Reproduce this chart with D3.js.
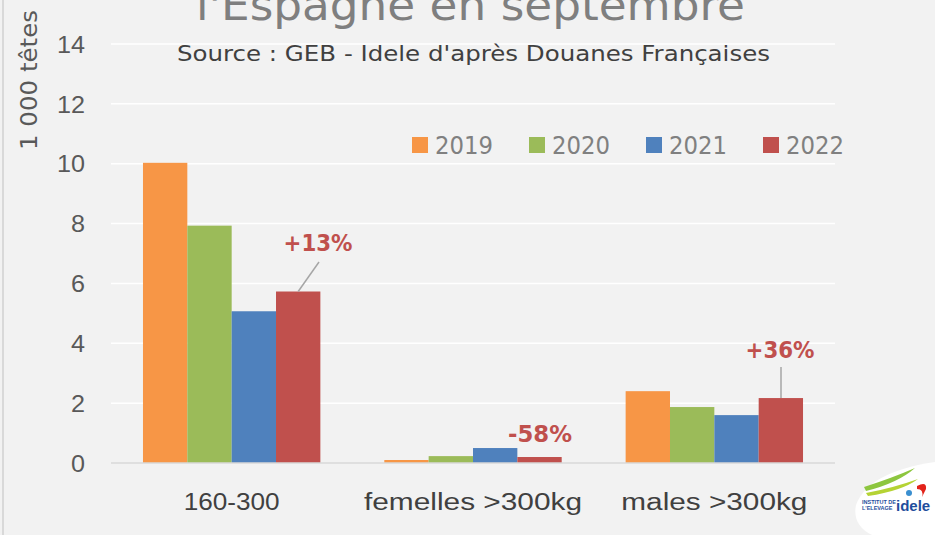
<!DOCTYPE html>
<html>
<head>
<meta charset="utf-8">
<script src="https://cdn.jsdelivr.net/npm/d3@7"></script>
<style>
  body { margin: 0; background: #f2f2f2; }
  svg { display: block; font-family: "Century Gothic", "URW Gothic", "DejaVu Sans", sans-serif; }
</style>
</head>
<body>
<div id="chart"></div>
<script>
const categories = ["160-300", "femelles >300kg", "males >300kg"];
const years = ["2019", "2020", "2021", "2022"];
const colors = ["#f79646", "#9bbb59", "#4f81bd", "#c0504d"];
const v2019 = [10.03, 0.1, 2.4];
const v2020 = [7.93, 0.23, 1.87];
const v2021 = [5.07, 0.5, 1.6];
const v2022 = [5.73, 0.2, 2.17];
const changes = ["+13%", "-58%", "+36%"];
const yTicks = [0, 2, 4, 6, 8, 10, 12, 14];

const W = 935, H = 535;
const series = [v2019, v2020, v2021, v2022];

const svg = d3.select("#chart").append("svg")
    .attr("width", W).attr("height", H);

svg.append("rect").attr("width", W).attr("height", H).attr("fill", "#f2f2f2");
svg.append("line").attr("x1", 3).attr("x2", 3).attr("y1", 0).attr("y2", H)
    .attr("stroke", "#d0d0d0").attr("stroke-width", 1.5);

const x0 = d3.scaleBand().domain(categories).range([111, 835]).paddingInner(0.265).paddingOuter(0.1325);
const x1 = d3.scaleBand().domain(years).range([0, x0.bandwidth()]);
const y = d3.scaleLinear().domain([0, 14]).range([463, 44]);

// fixed widths so the fallback font spans like the original
function fit(sel, w) {
  sel.attr("textLength", w).attr("lengthAdjust", "spacingAndGlyphs");
}

// gridlines
svg.append("g").selectAll("line").data(yTicks.filter(d => d > 0)).join("line")
    .attr("x1", 111).attr("x2", 835)
    .attr("y1", d => y(d)).attr("y2", d => y(d))
    .attr("stroke", "#ffffff").attr("stroke-width", 1.5);

// title (cut off at top like the original)
svg.append("text").attr("x", 196).attr("y", 20)
    .attr("font-size", 42).attr("fill", "#7f7f7f")
    .text("l'Espagne en septembre").call(fit, 549);

svg.append("text").attr("x", 177).attr("y", 61)
    .attr("font-size", 21).attr("fill", "#404040")
    .text("Source : GEB - Idele d'après Douanes Françaises").call(fit, 593);

// y axis
const yAxis = svg.append("g").attr("transform", "translate(85,0)")
    .call(d3.axisLeft(y).tickValues(yTicks).tickSize(0).tickPadding(0));
yAxis.select(".domain").remove();
yAxis.selectAll("text").attr("font-size", 23).attr("fill", "#595959")
    .attr("font-family", "inherit").attr("dy", "0.36em")
    .each(function(d) { d3.select(this).call(fit, String(d).length * 14); });

svg.append("text").attr("transform", "translate(37,150) rotate(-90)")
    .attr("font-size", 23).attr("fill", "#595959")
    .text("1 000 têtes").call(fit, 140);

// bars
const groups = svg.append("g").selectAll("g").data(categories).join("g")
    .attr("transform", d => `translate(${x0(d)},0)`);
groups.selectAll("rect").data((c, ci) => years.map((yr, si) => ({ yr, si, v: series[si][ci] })))
    .join("rect")
    .attr("x", d => x1(d.yr))
    .attr("width", x1.bandwidth())
    .attr("y", d => y(d.v))
    .attr("height", d => y(0) - y(d.v))
    .attr("fill", d => colors[d.si]);

// baseline
svg.append("line").attr("x1", 111).attr("x2", 835).attr("y1", y(0)).attr("y2", y(0))
    .attr("stroke", "#d9d9d9").attr("stroke-width", 1.5);

// x axis labels
const catWidths = [96, 218, 186];
const xAxis = svg.append("g").attr("transform", `translate(0,${y(0)})`)
    .call(d3.axisBottom(x0).tickSize(0).tickPadding(0));
xAxis.select(".domain").remove();
xAxis.selectAll("text").attr("font-size", 23).attr("fill", "#404040")
    .attr("font-family", "inherit").attr("dy", 0).attr("y", 47)
    .each(function(d, i) { d3.select(this).call(fit, catWidths[i]); });

// change labels
const labelPos = [
  { x: 318, y: 251, line: [319, 262] },
  { x: 540, y: 442, line: null },
  { x: 780, y: 358, line: [781, 367] }
];
categories.forEach((c, i) => {
  const p = labelPos[i];
  svg.append("text").attr("x", p.x).attr("y", p.y)
      .attr("text-anchor", "middle").attr("font-size", 23).attr("font-weight", "bold")
      .attr("fill", "#c0504d").text(changes[i]).call(fit, i === 1 ? 64 : 69);
  if (p.line) {
    const bx = x0(c) + x1("2022") + x1.bandwidth() / 2;
    svg.append("line").attr("x1", p.line[0]).attr("y1", p.line[1])
        .attr("x2", i === 0 ? bx - 0 : p.line[0]).attr("y2", y(series[3][i]))
        .attr("stroke", "#a6a6a6").attr("stroke-width", 1.5);
  }
});

// legend
const legend = svg.append("g").selectAll("g").data(years).join("g")
    .attr("transform", (d, i) => `translate(${412 + i * 117},137)`);
legend.append("rect").attr("width", 16).attr("height", 16).attr("fill", (d, i) => colors[i]);
legend.append("text").attr("x", 23).attr("y", 17).attr("font-size", 25).attr("fill", "#808080")
    .text(d => d).call(fit, 58);

// logo
const logo = svg.append("g");
logo.append("path").attr("d", "M856,505 Q868,472 935,462 L935,535 L872,535 Q852,525 856,505 Z")
    .attr("fill", "#ffffff");
logo.append("path").attr("d", "M864,487 Q892,478 915,468 Q898,483 866,491 Z").attr("fill", "#8dc63f");
logo.append("path").attr("d", "M866,493 Q893,488 918,479 Q902,491 868,496 Z").attr("fill", "#b5d334");
logo.append("path").attr("d", "M917,486 Q927,481 926,489 L922,497 Q924,489 917,489 Z").attr("fill", "#e2231a");
logo.append("circle").attr("cx", 909).attr("cy", 493).attr("r", 3).attr("fill", "#3a8fd0");
logo.append("text").attr("x", 862).attr("y", 504).attr("font-size", 5.5).attr("font-weight", "bold")
    .attr("fill", "#1f4e9c").attr("font-family", "Liberation Sans").text("INSTITUT DE");
logo.append("text").attr("x", 862).attr("y", 510).attr("font-size", 5.5).attr("font-weight", "bold")
    .attr("fill", "#1f4e9c").attr("font-family", "Liberation Sans").text("L'ELEVAGE");
logo.append("text").attr("x", 896).attr("y", 511).attr("font-size", 15).attr("font-weight", "bold")
    .attr("fill", "#1f4e9c").attr("font-family", "Liberation Sans").text("idele");
</script>
</body>
</html>
